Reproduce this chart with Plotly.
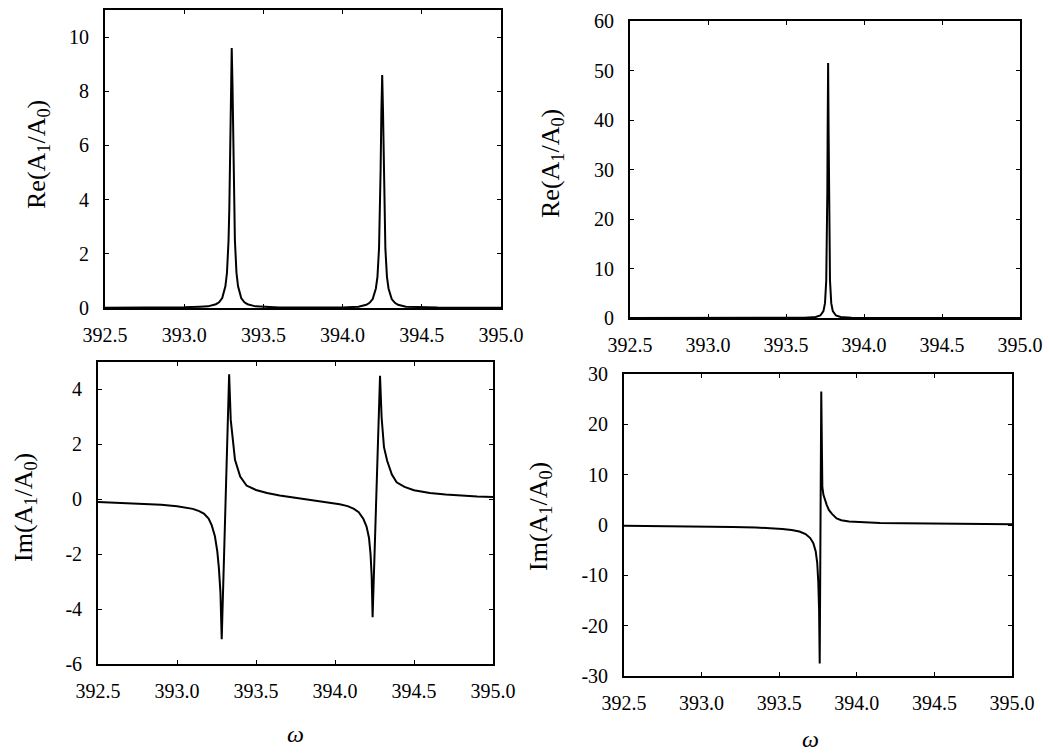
import plotly.graph_objects as go

# ---- frequency axis ticks ----
omega_ticks = [392.5, 393.0, 393.5, 394.0, 394.5, 395.0]
omega_tick_text = ["392.5", "393.0", "393.5", "394.0", "394.5", "395.0"]

# ---- panel (a): two resonances, real part ----
re_a_omega = [392.50, 392.80, 393.00, 393.10, 393.15, 393.20, 393.22, 393.24, 393.26,
              393.27, 393.28, 393.285, 393.29, 393.295, 393.30, 393.305, 393.31, 393.315,
              393.32, 393.33, 393.34, 393.36, 393.38, 393.40, 393.45, 393.60, 393.80,
              394.00, 394.10, 394.15, 394.17, 394.19, 394.21, 394.22, 394.23, 394.235,
              394.24, 394.245, 394.25, 394.255, 394.26, 394.265, 394.27, 394.28, 394.29,
              394.31, 394.33, 394.35, 394.40, 394.60, 395.00]
re_a_value = [0.01, 0.015, 0.03, 0.05, 0.06, 0.14, 0.21, 0.37, 0.8,
              1.3, 2.5, 3.7, 5.7, 8.2, 9.6, 8.2, 5.7, 3.7,
              2.5, 1.3, 0.8, 0.37, 0.21, 0.14, 0.06, 0.02, 0.015,
              0.02, 0.05, 0.12, 0.19, 0.33, 0.72, 1.15, 2.2, 3.3,
              5.1, 7.3, 8.6, 7.3, 5.1, 3.3, 2.2, 1.15, 0.72,
              0.33, 0.19, 0.12, 0.05, 0.015, 0.01]

# ---- panel (a): two resonances, imaginary part ----
im_a_omega = [392.50, 392.60, 392.70, 392.80, 392.90, 393.00, 393.05, 393.10, 393.14,
              393.17, 393.20, 393.22, 393.24, 393.255, 393.265, 393.275, 393.283, 393.33,
              393.34, 393.367, 393.40, 393.44, 393.50, 393.57, 393.65, 393.75, 393.84,
              393.92, 393.98, 394.03, 394.08, 394.12, 394.15, 394.18, 394.20, 394.215,
              394.225, 394.232, 394.238, 394.285, 394.295, 394.31, 394.33, 394.36, 394.39,
              394.44, 394.50, 394.60, 394.70, 394.80, 394.90, 395.00]
im_a_value = [-0.10, -0.12, -0.14, -0.17, -0.20, -0.25, -0.29, -0.35, -0.43,
              -0.52, -0.70, -0.95, -1.35, -1.9, -2.5, -3.4, -5.1, 4.55,
              2.9, 1.44, 0.83, 0.5, 0.34, 0.23, 0.14, 0.05, -0.02,
              -0.08, -0.13, -0.18, -0.25, -0.35, -0.47, -0.72, -1.0, -1.4,
              -2.0, -2.8, -4.3, 4.5, 2.98, 1.9, 1.4, 0.9, 0.62,
              0.45, 0.33, 0.23, 0.17, 0.13, 0.10, 0.08]

# ---- panel (b): single resonance, real part ----
re_b_omega = [392.50, 393.00, 393.37, 393.62, 393.69, 393.72, 393.74, 393.75, 393.758,
              393.762, 393.765, 393.767, 393.77, 393.773, 393.775, 393.778, 393.782, 393.79,
              393.80, 393.82, 393.85, 393.92, 394.17, 394.60, 395.00]
re_b_value = [0.005, 0.008, 0.02, 0.057, 0.2, 0.51, 1.39, 3.0, 7.6,
              14.5, 25.75, 37.9, 51.5, 37.9, 25.75, 14.5, 7.6, 3.0,
              1.39, 0.51, 0.2, 0.057, 0.008, 0.005, 0.004]

# ---- panel (b): single resonance, imaginary part ----
im_b_omega = [392.50, 392.80, 393.00, 393.20, 393.35, 393.44, 393.52, 393.58, 393.63,
              393.67, 393.70, 393.72, 393.735, 393.745, 393.752, 393.757, 393.761, 393.771,
              393.775, 393.778, 393.785, 393.795, 393.806, 393.82, 393.84, 393.87, 393.90,
              393.95, 394.04, 394.15, 394.30, 394.47, 394.70, 395.00]
im_b_value = [-0.15, -0.21, -0.27, -0.38, -0.5, -0.62, -0.8, -1.0, -1.3,
              -1.8, -2.6, -3.6, -5.2, -7.5, -11.4, -17.0, -27.5, 26.5,
              12.0, 7.5, 6.0, 4.9, 4.0, 3.0, 2.2, 1.3, 0.95,
              0.7, 0.5, 0.4, 0.33, 0.28, 0.2, 0.15]

# ---- y ticks per panel ----
re_a_ticks = [0, 2, 4, 6, 8, 10]
im_a_ticks = [-6, -4, -2, 0, 2, 4]
re_b_ticks = [0, 10, 20, 30, 40, 50, 60]
im_b_ticks = [-30, -20, -10, 0, 10, 20, 30]

W, H = 1049, 755
SERIF = "Liberation Serif"
TICK_FONT = dict(family=SERIF, size=20, color="black")
TITLE_FONT = dict(family=SERIF, size=26, color="black")


def px_x(x0, x1):
    return [x0 / W, x1 / W]


def px_y(top, bottom):
    return [1 - bottom / H, 1 - top / H]


panels = [
    # (xaxis id, yaxis id, x domain, y domain, y range, y ticks, omega, values)
    ("x", "y", px_x(105, 501), px_y(10, 308), [0, 11], re_a_ticks, re_a_omega, re_a_value),
    ("x2", "y2", px_x(630, 1020), px_y(21, 318), [0, 60], re_b_ticks, re_b_omega, re_b_value),
    ("x3", "y3", px_x(98, 493), px_y(362, 664), [-6, 5], im_a_ticks, im_a_omega, im_a_value),
    ("x4", "y4", px_x(624, 1012), px_y(374, 676), [-30, 30], im_b_ticks, im_b_omega, im_b_value),
]

fig = go.Figure()
layout = dict(
    template="none",
    width=W, height=H, autosize=False,
    margin=dict(l=0, r=0, t=0, b=0, pad=0),
    paper_bgcolor="white", plot_bgcolor="white",
    showlegend=False,
    font=dict(family=SERIF, color="black"),
)

for xa, ya, xdom, ydom, yrange, yticks, om, val in panels:
    fig.add_trace(go.Scatter(x=om, y=val, mode="lines", xaxis=xa, yaxis=ya,
                             line=dict(color="black", width=2), hoverinfo="skip"))
    xkey = "xaxis" if xa == "x" else "xaxis" + xa[1:]
    ykey = "yaxis" if ya == "y" else "yaxis" + ya[1:]
    axis_common = dict(showline=True, linecolor="black", linewidth=1.8, mirror="allticks",
                       ticks="inside", ticklen=4, tickwidth=1, tickcolor="black",
                       showgrid=False, zeroline=False, automargin=False,
                       tickfont=TICK_FONT)
    layout[xkey] = dict(domain=xdom, anchor=ya, range=[392.5, 395.0],
                        tickmode="array", tickvals=omega_ticks, ticktext=omega_tick_text,
                        ticklabelstandoff=8, **axis_common)
    layout[ykey] = dict(domain=ydom, anchor=xa, range=yrange,
                        tickmode="array", tickvals=yticks,
                        ticktext=[str(t) for t in yticks],
                        ticklabelstandoff=10, **axis_common)

fig.update_layout(**layout)

# axis titles
y_titles = [
    ("Re(A<sub>1</sub>/A<sub>0</sub>)", 38, 155),
    ("Re(A<sub>1</sub>/A<sub>0</sub>)", 552, 163),
    ("Im(A<sub>1</sub>/A<sub>0</sub>)", 25, 508),
    ("Im(A<sub>1</sub>/A<sub>0</sub>)", 540, 517),
]
for text, cx, cy in y_titles:
    fig.add_annotation(text=text, x=cx / W, y=1 - cy / H, xref="paper", yref="paper",
                       showarrow=False, textangle=-90, font=TITLE_FONT,
                       xanchor="center", yanchor="middle")

for cx, cy in [(295, 734), (810, 739)]:
    fig.add_annotation(text="<i>ω</i>", x=cx / W, y=1 - cy / H, xref="paper", yref="paper",
                       showarrow=False, font=dict(family=SERIF, size=24, color="black"),
                       xanchor="center", yanchor="middle")

fig.write_html("out.html")
